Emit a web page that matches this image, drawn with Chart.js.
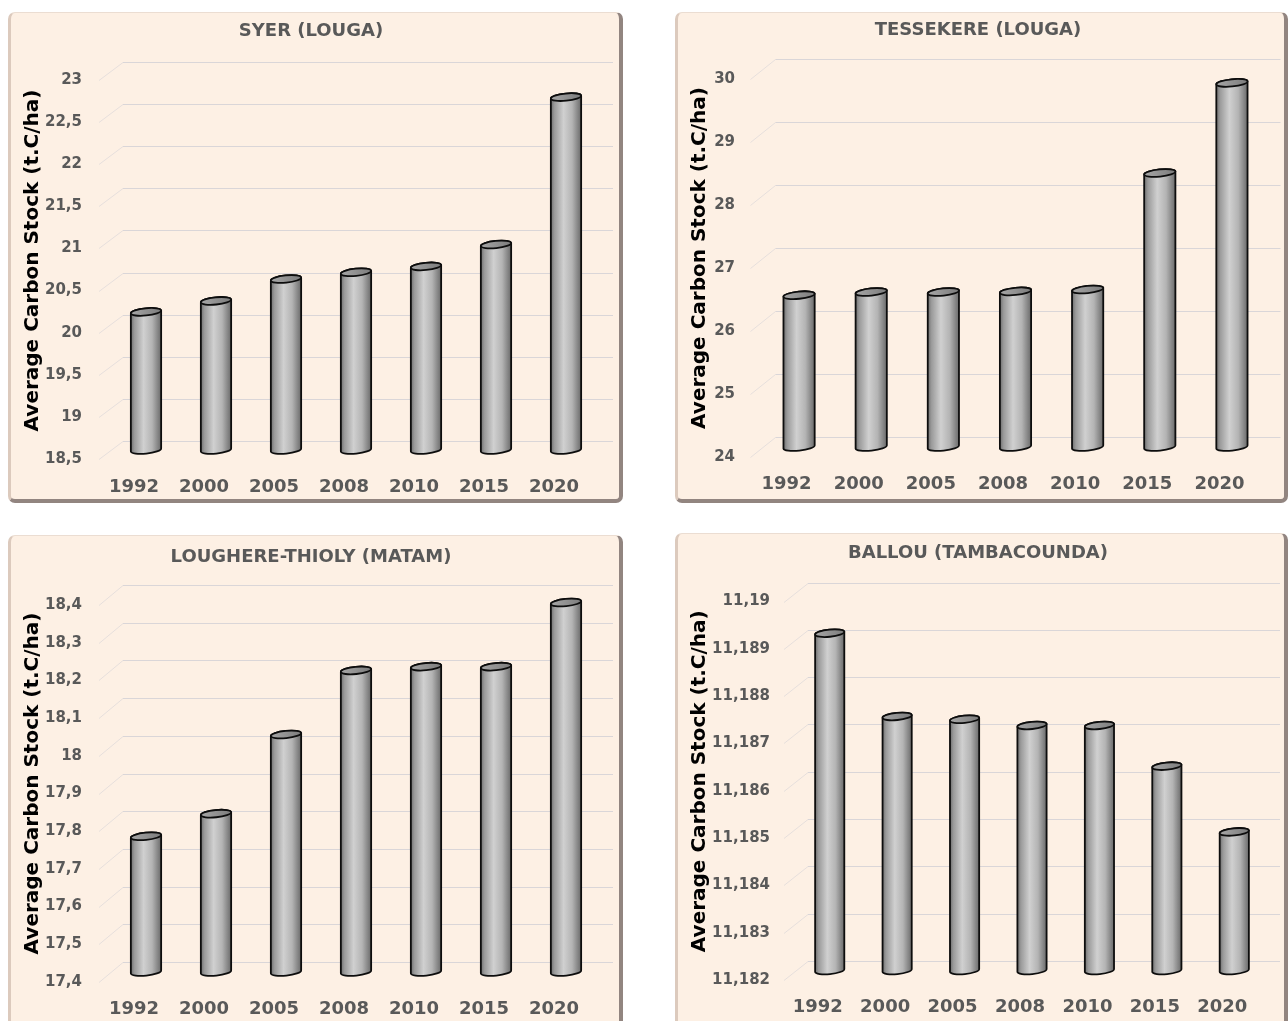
<!DOCTYPE html>
<html>
<head>
<meta charset="utf-8">
<script src="https://cdn.jsdelivr.net/npm/chart.js@4.4.1/dist/chart.umd.min.js"></script>
<style>
  body { margin: 0; background: #fff; width: 1288px; height: 1021px; overflow: hidden; position: relative; }
  .panel {
    position: absolute; box-sizing: border-box; background: #fdf0e4; border-radius: 7px;
    border-left: 3px solid #dccabd; border-top: 1px solid #ebddd2;
    border-right: 4px solid #928580; border-bottom: 4px solid #928580;
  }
  canvas { position: absolute; }
</style>
</head>
<body>
<div class="panel" style="left:8px;top:12px;width:615px;height:491px"></div>
<div class="panel" style="left:675px;top:12px;width:613px;height:491px"></div>
<div class="panel" style="left:8px;top:535px;width:615px;height:500px"></div>
<div class="panel" style="left:675px;top:533px;width:613px;height:500px"></div>
<canvas id="c1" width="615" height="491" style="left:8px;top:12px"></canvas>
<canvas id="c2" width="613" height="491" style="left:675px;top:12px"></canvas>
<canvas id="c3" width="615" height="486" style="left:8px;top:535px"></canvas>
<canvas id="c4" width="613" height="488" style="left:675px;top:533px"></canvas>
<script>
// Data
const years = ['1992', '2000', '2005', '2008', '2010', '2015', '2020'];
const syerValues = [20.14, 20.27, 20.53, 20.61, 20.68, 20.94, 22.69];
const tessekereValues = [26.41, 26.46, 26.46, 26.47, 26.50, 28.35, 29.78];
const loughereValues = [17.76, 17.82, 18.03, 18.20, 18.21, 18.21, 18.38];
const ballouValues = [11.18913, 11.18737, 11.18731, 11.18718, 11.18718, 11.18632, 11.18493];

// y axis ranges: [min, max, step]
const syerAxis = [18.5, 23, 0.5];
const tessekereAxis = [24, 30, 1];
const loughereAxis = [17.4, 18.4, 0.1];
const ballouAxis = [11.182, 11.19, 0.001];

const yTitle = 'Average Carbon Stock (t.C/ha)';
const FONT = '"DejaVu Sans", Arial, sans-serif';

// layout of each panel, page coordinates
const panels = [
  { id: 'c1', title: 'SYER (LOUGA)', values: syerValues, axis: syerAxis,
    box: [8, 12, 615, 491], area: [111, 601, 71, 450], depth: [12, 9],
    labelRight: 82, titleY: 31, xLabelY: 487, yTitleX: 33 },
  { id: 'c2', title: 'TESSEKERE (LOUGA)', values: tessekereValues, axis: tessekereAxis,
    box: [675, 12, 613, 491], area: [763, 1268, 69, 447], depth: [12.5, 10],
    labelRight: 735, titleY: 30, xLabelY: 484, yTitleX: 700 },
  { id: 'c3', title: 'LOUGHERE-THIOLY (MATAM)', values: loughereValues, axis: loughereAxis,
    box: [8, 535, 615, 486], area: [111, 601, 595, 972], depth: [12, 10],
    labelRight: 82, titleY: 557, xLabelY: 1009, yTitleX: 33 },
  { id: 'c4', title: 'BALLOU (TAMBACOUNDA)', values: ballouValues, axis: ballouAxis,
    box: [675, 533, 613, 488], area: [796, 1268, 592, 970.5], depth: [12, 9.5],
    labelRight: 770, titleY: 553, xLabelY: 1007, yTitleX: 700 }
];

function formatTick(v) {
  return String(parseFloat(Number(v).toFixed(4))).replace('.', ',');
}

// back-wall grid lines with the little perspective step on the left
const gridPlugin = {
  id: 'grid3d',
  beforeDatasetsDraw(chart, args, opts) {
    const ctx = chart.ctx, ys = chart.scales.y, area = chart.chartArea;
    const dx = opts.dx, dy = opts.dy;
    ctx.save();
    ctx.lineWidth = 1;
    ys.ticks.forEach((t, i) => {
      const py = Math.round(ys.getPixelForTick(i) - dy) + 0.5;
      ctx.strokeStyle = '#e6dfdc';
      ctx.beginPath();
      ctx.moveTo(area.left - dx, py + 2 * dy);
      ctx.lineTo(area.left + dx, py);
      ctx.stroke();
      ctx.strokeStyle = '#dad6d8';
      ctx.beginPath();
      ctx.moveTo(area.left + dx, py);
      ctx.lineTo(area.right + dx, py);
      ctx.stroke();
    });
    ctx.restore();
  }
};

function drawCylinder(ctx, cx, top, base, a) {
  const b = 3.6, rot = -0.1;
  const c = Math.cos(rot), s = Math.sin(rot);
  const grad = ctx.createLinearGradient(cx - a, 0, cx + a, 0);
  grad.addColorStop(0, '#6e6e6e');
  grad.addColorStop(0.12, '#9a9a9a');
  grad.addColorStop(0.42, '#d0d0d0');
  grad.addColorStop(0.7, '#b4b4b4');
  grad.addColorStop(1, '#6a6a6a');
  ctx.beginPath();
  ctx.moveTo(cx - a * c, top - a * s);
  ctx.lineTo(cx - a * c, base - a * s);
  ctx.ellipse(cx, base, a, b, rot, Math.PI, 0, true);
  ctx.lineTo(cx + a * c, top + a * s);
  ctx.ellipse(cx, top, a, b, rot, 0, Math.PI, true);
  ctx.closePath();
  ctx.fillStyle = grad;
  ctx.fill();
  ctx.lineWidth = 1.8;
  ctx.strokeStyle = '#0d0d0d';
  ctx.stroke();
  const tg = ctx.createLinearGradient(cx - a, 0, cx + a, 0);
  tg.addColorStop(0, '#a6a6a6');
  tg.addColorStop(1, '#7c7c7c');
  ctx.beginPath();
  ctx.ellipse(cx, top, a, b, rot, 0, Math.PI * 2);
  ctx.fillStyle = tg;
  ctx.fill();
  ctx.stroke();
}

const cylinderPlugin = {
  id: 'cylinders',
  afterDatasetsDraw(chart) {
    const ctx = chart.ctx;
    ctx.save();
    chart.getDatasetMeta(0).data.forEach(bar => {
      const p = bar.getProps(['x', 'y', 'base', 'width'], true);
      drawCylinder(ctx, p.x, p.y, p.base, p.width / 2);
    });
    ctx.restore();
  }
};

panels.forEach(p => {
  const [ox, oy, w, h] = p.box;
  const l = p.area[0] - ox, r = p.area[1] - ox, t = p.area[2] - oy, b = p.area[3] - oy;
  const titleSize = 18, titleLH = titleSize * 1.2;
  const yTitleSize = 20, yTitleLH = yTitleSize * 1.2;
  const xSize = 18, xLH = xSize * 1.2;
  const padLeft = (p.yTitleX - ox) - yTitleLH / 2;
  const titleTop = (p.titleY - oy) - titleLH / 2;

  new Chart(document.getElementById(p.id), {
    type: 'bar',
    data: {
      labels: years,
      datasets: [{
        data: p.values,
        base: p.axis[0],
        backgroundColor: 'rgba(0,0,0,0)',
        borderWidth: 0,
        barPercentage: 0.435,
        categoryPercentage: 1
      }]
    },
    plugins: [gridPlugin, cylinderPlugin],
    options: {
      responsive: false,
      animation: false,
      devicePixelRatio: 1,
      layout: { padding: { left: padLeft, right: w - r, top: 0, bottom: 0 } },
      plugins: {
        legend: { display: false },
        tooltip: { enabled: false },
        title: {
          display: true,
          text: p.title,
          color: '#595959',
          font: { family: FONT, size: titleSize, weight: 'bold' },
          padding: { top: titleTop, bottom: t - titleTop - titleLH }
        },
        grid3d: { dx: p.depth[0], dy: p.depth[1] }
      },
      scales: {
        x: {
          grid: { display: false, drawTicks: false },
          border: { display: false },
          ticks: {
            color: '#595959',
            font: { family: FONT, size: xSize, weight: 'bold' },
            padding: (p.xLabelY - oy) - b - xLH / 2,
            labelOffset: -p.depth[0],
            maxRotation: 0,
            autoSkip: false
          },
          afterFit(scale) { scale.height = h - b; }
        },
        y: {
          min: p.axis[0],
          max: p.axis[1],
          grid: { display: false, drawTicks: false },
          border: { display: false },
          ticks: {
            stepSize: p.axis[2],
            autoSkip: false,
            color: '#595959',
            font: { family: FONT, size: 15, weight: 'bold' },
            padding: l - (p.labelRight - ox),
            labelOffset: p.depth[1],
            callback: v => formatTick(v)
          },
          title: {
            display: true,
            text: yTitle,
            color: '#000',
            font: { family: FONT, size: yTitleSize, weight: 'bold' },
            padding: 0
          },
          afterFit(scale) { scale.width = l - padLeft; }
        }
      }
    }
  });
});
</script>
</body>
</html>
